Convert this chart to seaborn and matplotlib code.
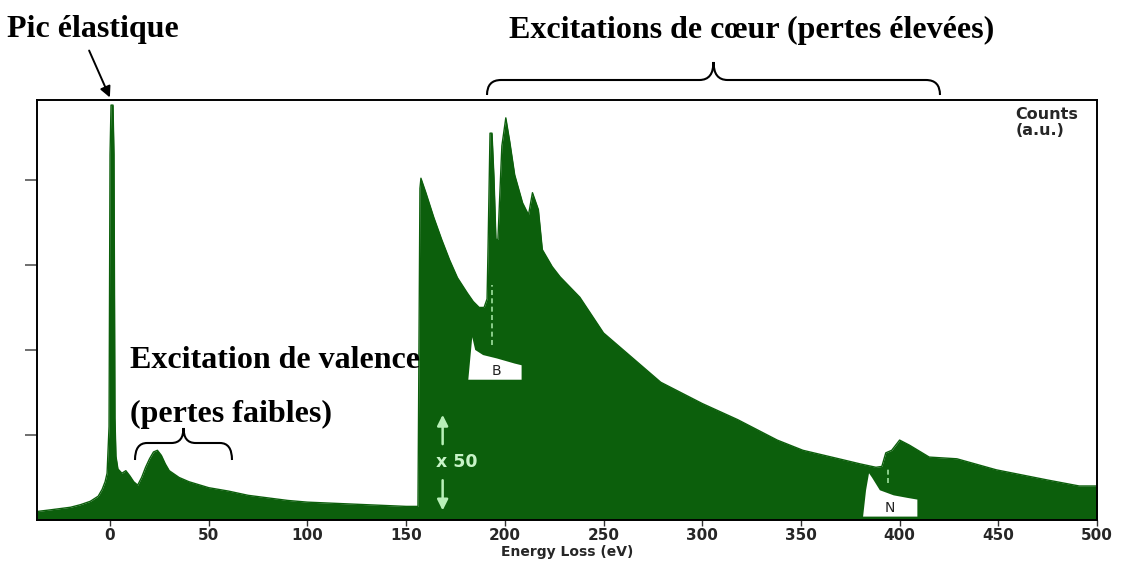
import matplotlib
matplotlib.use("Agg")
import matplotlib.pyplot as plt
from matplotlib.path import Path
from matplotlib.patches import PathPatch, FancyArrowPatch, Polygon
import seaborn as sns
import pandas as pd

# ---- spectrum values (counts, arbitrary units) ----
# low-loss region: zero-loss peak + valence plasmon
low_energy = [-37, -30, -20, -15, -10, -6, -4, -2.5, -1.5, -0.5, 0, 0.5, 1.5, 2, 2.5, 3, 4,
              6, 8, 10, 12, 14, 16, 18, 20, 22, 24, 26, 28, 30, 35, 40, 50, 60, 70,
              80, 90, 100, 110, 120, 130, 140, 150, 156]
low_counts = [0.10, 0.12, 0.15, 0.18, 0.22, 0.28, 0.36, 0.45, 0.55, 1.10, 4.30, 4.88, 4.88, 4.30,
              1.20, 0.75, 0.60, 0.55, 0.58, 0.52, 0.45, 0.41, 0.50, 0.62, 0.72, 0.80, 0.82,
              0.76, 0.66, 0.58, 0.50, 0.45, 0.38, 0.34, 0.29, 0.26, 0.23, 0.21, 0.20, 0.19,
              0.18, 0.17, 0.16, 0.16]
# core-loss region (displayed x 50): B K-edge and N K-edge
core_energy = [157, 157.5, 160, 164, 168, 172, 176, 181, 184, 187, 189.5, 191, 191.5, 192.5,
               193.5, 194.5, 195.5, 196.5, 198.5, 200.5, 202.5, 205, 209, 212, 214, 217,
               219, 224, 228, 238, 250, 262, 279, 300, 318, 338, 351, 371, 380, 388, 391,
               393, 396, 400, 405, 415, 429, 449, 475, 491, 500]
core_counts = [3.90, 4.02, 3.85, 3.56, 3.30, 3.06, 2.85, 2.67, 2.57, 2.50, 2.50, 2.60, 3.20,
               4.55, 4.55, 4.03, 3.30, 3.30, 4.40, 4.73, 4.45, 4.06, 3.73, 3.59, 3.85, 3.65,
               3.18, 2.98, 2.86, 2.62, 2.20, 1.96, 1.62, 1.37, 1.18, 0.94, 0.82, 0.71, 0.66,
               0.62, 0.63, 0.79, 0.82, 0.94, 0.88, 0.74, 0.72, 0.59, 0.47, 0.40, 0.40]

# unscaled edge shapes drawn as small insets
b_inset_energy = [181.5, 183.5, 185, 189, 196, 205, 208.5, 208.5]
b_inset_counts = [1.65, 2.15, 2.00, 1.94, 1.90, 1.84, 1.82, 1.65]
n_inset_energy = [381.5, 383, 384.5, 386, 390, 397, 404, 409, 409]
n_inset_counts = [0.04, 0.35, 0.55, 0.50, 0.35, 0.29, 0.26, 0.24, 0.04]

x_ticks = [0, 50, 100, 150, 200, 250, 300, 350, 400, 450, 500]
y_ticks = [1, 2, 3, 4]

spectrum = pd.DataFrame({
    "Energy Loss (eV)": low_energy + core_energy,
    "Counts": low_counts + core_counts,
})

W, H = 1121, 571
sns.set_theme(style="white")
plt.rcParams["font.family"] = ["DejaVu Sans"]
fig = plt.figure(figsize=(W / 100, H / 100), dpi=100)
ax = fig.add_axes([37 / W, 1 - 520 / H, (1097 - 37) / W, (520 - 100) / H])

green = "#0c5f0c"
sns.lineplot(data=spectrum, x="Energy Loss (eV)", y="Counts", ax=ax,
             color=green, lw=1.0, estimator=None, sort=False)
ax.fill_between(spectrum["Energy Loss (eV)"], 0, spectrum["Counts"], color=green, lw=0)

# insets
ax.add_patch(Polygon(list(zip(b_inset_energy, b_inset_counts)), closed=True,
                     facecolor="white", edgecolor="none", zorder=3))
ax.add_patch(Polygon(list(zip(n_inset_energy, n_inset_counts)), closed=True,
                     facecolor="white", edgecolor="none", zorder=3))
ax.text(195.5, 1.75, "B", ha="center", va="center", fontsize=10, color="#222222", zorder=4)
ax.text(395, 0.14, "N", ha="center", va="center", fontsize=10, color="#222222", zorder=4)

# edge onset markers
ax.plot([193.5, 193.5], [2.06, 2.76], ls=(0, (3, 2)), color="#9fe09f", lw=1.2, zorder=4)
ax.plot([394, 394], [0.44, 0.62], ls=(0, (3, 2)), color="#9fe09f", lw=1.2, zorder=4)

# x 50 scale marker
arrow_kw = dict(arrowstyle="-|>", color="#b8f0b8", lw=1.8, mutation_scale=16)
ax.annotate("", xy=(168.5, 1.27), xytext=(168.5, 0.86), arrowprops=arrow_kw, zorder=5)
ax.annotate("", xy=(168.5, 0.08), xytext=(168.5, 0.50), arrowprops=arrow_kw, zorder=5)
ax.text(165, 0.68, "x 50", ha="left", va="center", fontsize=12.5, fontweight="bold",
        color="#c8f4c8", zorder=5)

ax.text(0.923, 0.983, "Counts\n(a.u.)", transform=ax.transAxes, ha="left", va="top",
        fontsize=11.5, fontweight="bold", linespacing=1.05)

ax.set_xlim(-37, 500)
ax.set_ylim(0, 4.94)
ax.set_xticks(x_ticks)
ax.set_xticklabels([str(t) for t in x_ticks], fontweight="bold", fontsize=11)
ax.set_yticks(y_ticks)
ax.set_yticklabels([])
ax.set_xlabel("Energy Loss (eV)", fontweight="bold", fontsize=10, labelpad=1)
ax.set_ylabel("")
ax.tick_params(axis="x", direction="out", length=4, width=1, color="#333333", pad=2)
ax.tick_params(axis="y", direction="out", length=9, width=1.2, color="#555555")
ax.tick_params(bottom=True, left=True)
for s in ax.spines.values():
    s.set_color("black")
    s.set_linewidth(1.4)


def fpt(x, y):
    return (x / W, 1 - y / H)


def brace(x0, x1, y_end, y_mid, y_tip, r):
    xc = (x0 + x1) / 2
    verts = [fpt(x0, y_end), fpt(x0, y_mid), fpt(x0 + r, y_mid),
             fpt(xc - r, y_mid), fpt(xc, y_mid), fpt(xc, y_tip),
             fpt(xc, y_mid), fpt(xc + r, y_mid),
             fpt(x1 - r, y_mid), fpt(x1, y_mid), fpt(x1, y_end)]
    codes = [Path.MOVETO, Path.CURVE3, Path.CURVE3, Path.LINETO, Path.CURVE3, Path.CURVE3,
             Path.CURVE3, Path.CURVE3, Path.LINETO, Path.CURVE3, Path.CURVE3]
    fig.add_artist(PathPatch(Path(verts, codes), transform=fig.transFigure,
                             fill=False, lw=1.5, color="black"))


serif = ["Liberation Serif", "DejaVu Serif"]
title_kw = dict(family=serif, fontweight="bold", fontsize=23, color="black")

fig.text(*fpt(7, 30), "Pic élastique", ha="left", va="center", **title_kw)
fig.text(*fpt(752, 30), "Excitations de cœur (pertes élevées)", ha="center", va="center", **title_kw)
fig.text(*fpt(130, 360), "Excitation de valence", ha="left", va="center", **title_kw)
fig.text(*fpt(130, 414), "(pertes faibles)", ha="left", va="center", **title_kw)

brace(487, 940, 95, 80, 62, 14)
brace(135, 232, 460, 443, 428, 12)

fig.add_artist(FancyArrowPatch(fpt(88, 48), fpt(111, 100), transform=fig.transFigure,
                               arrowstyle="-|>", mutation_scale=16, lw=1.4, color="black"))

fig.savefig("out.png", dpi=100)
